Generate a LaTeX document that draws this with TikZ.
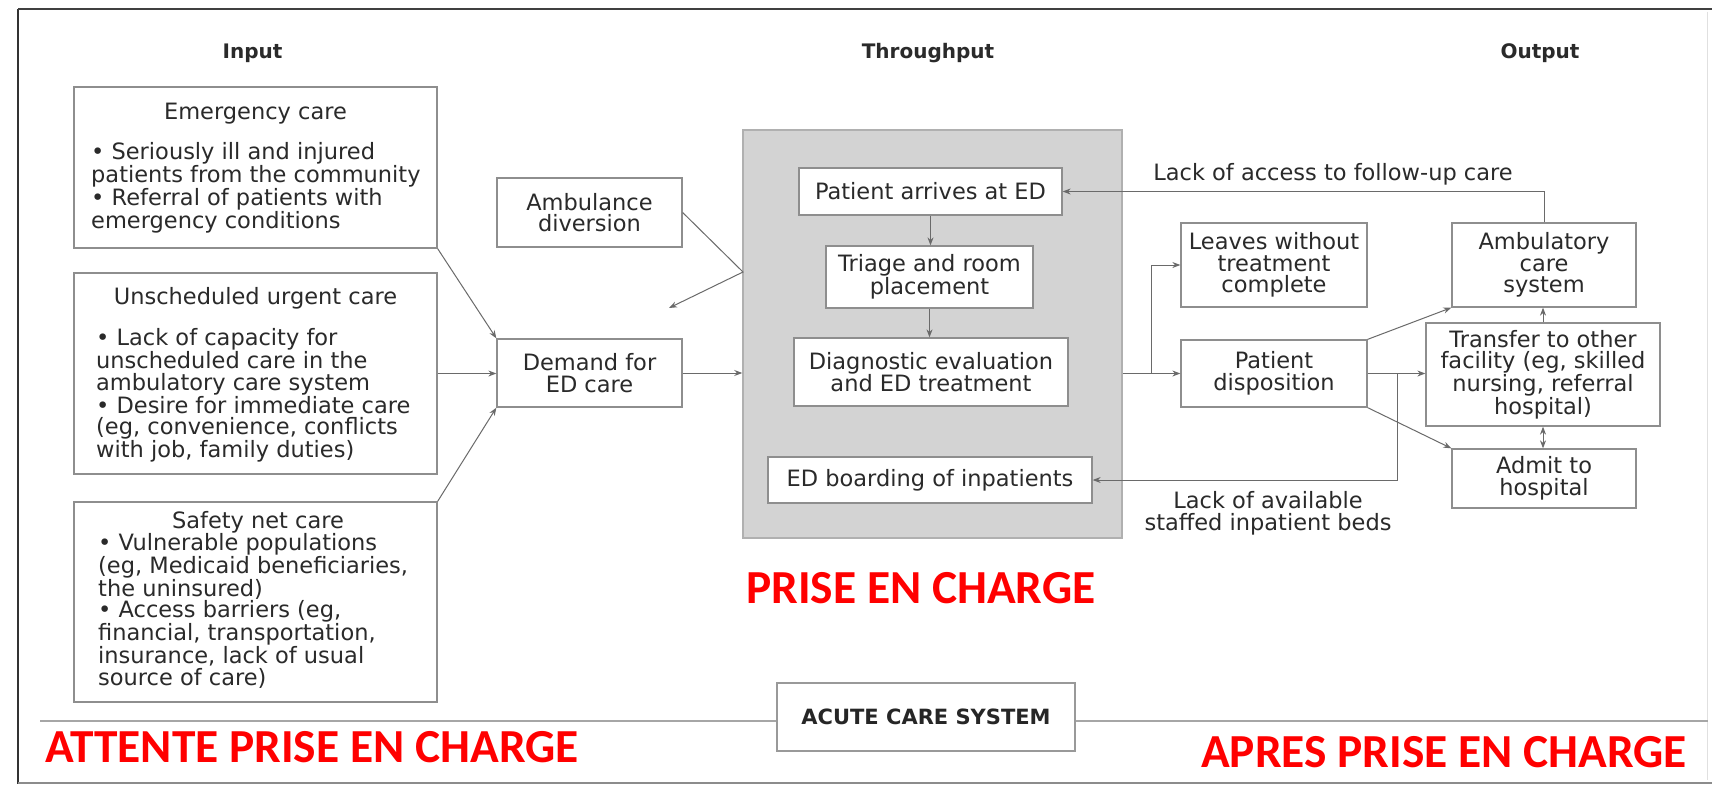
\documentclass[tikz,border=0pt]{standalone}
\usepackage{fontspec}
\setmainfont{DejaVu Sans}
\newfontfamily\redfont{Carlito}
\usetikzlibrary{arrows.meta}
\definecolor{txt}{HTML}{2A2A2A}
\definecolor{bord}{HTML}{8E8E8E}
\definecolor{conncol}{HTML}{6A6A6A}
\definecolor{grayfill}{HTML}{D3D3D3}
\definecolor{grayline}{HTML}{B0B0B0}
\definecolor{redtxt}{HTML}{FF0000}
\begin{document}
\begin{tikzpicture}[x=1pt,y=-1pt,
  every node/.style={text=txt, font=\fontsize{22.5}{21.7}\selectfont},
  ibox/.style={draw=bord, line width=1.3pt, fill=white, inner sep=0pt, align=center},
  conn/.style={draw=conncol, line width=1pt, -{Stealth[length=8pt,width=6pt]}},
  dconn/.style={draw=conncol, line width=1pt, {Stealth[length=8pt,width=6pt]}-{Stealth[length=8pt,width=6pt]}},
  headlabel/.style={font=\bfseries\fontsize{20}{24}\selectfont, text=txt},
  bodytext/.style={inner sep=0pt, anchor=base west, align=left},
  titletext/.style={inner sep=0pt, anchor=base, text depth=0pt},
  redlabel/.style={font=\redfont\bfseries\fontsize{47.4}{50}\selectfont, text=redtxt, inner sep=0pt, anchor=base west},
]
\useasboundingbox (0,0) rectangle (1712,784);
\fill[white] (0,0) rectangle (1712,784);
% frame
\draw[line width=2.5pt, black!80] (18,9) -- (18,784);
\draw[line width=2pt, black!75] (18,9) -- (1712,9);
\draw[line width=2pt, black!45] (18,783) -- (1712,783);
\draw[line width=1pt, black!12] (1707,12) -- (1707,780);
\draw[line width=1.5pt, black!35] (40,721) -- (1708,721);

% headers
\node[headlabel] (hin) at (252.5,53) {Input};
\node[headlabel] (hthr) at (928,53) {Throughput};
\node[headlabel] (hout) at (1540,53) {Output};

% input boxes (body text anchored at the baseline of its last line)
\node[ibox, minimum width=363pt, minimum height=161pt] (emerg) at (255.5,167.5) {};
\node[titletext] (emergt) at (255.5,119) {Emergency care};
\node[bodytext] (emergb) at (91,228) {• Seriously ill and injured\\patients from the community\\• Referral of patients with\\emergency conditions};

\node[ibox, minimum width=363pt, minimum height=201pt] (unsch) at (255.5,373.5) {};
\node[titletext] (unscht) at (255.5,304) {Unscheduled urgent care};
\node[bodytext] (unschb) at (96,457.5) {• Lack of capacity for\\unscheduled care in the\\ambulatory care system\\• Desire for immediate care\\(eg, convenience, conflicts\\with job, family duties)};

\node[ibox, minimum width=363pt, minimum height=200pt] (safety) at (255.5,602) {};
\node[titletext] (safetyt) at (258,528.5) {Safety net care};
\node[bodytext] (safetyb) at (98,685) {• Vulnerable populations\\(eg, Medicaid beneficiaries,\\the uninsured)\\• Access barriers (eg,\\financial, transportation,\\insurance, lack of usual\\source of care)};

\node[ibox, minimum width=185pt, minimum height=69pt] (amb) at (589.5,212.5) {Ambulance\\diversion};
\node[ibox, minimum width=185pt, minimum height=68pt] (demand) at (589.5,373) {Demand for\\ED care};

% throughput
\node[draw=grayline, fill=grayfill, line width=1.5pt, inner sep=0pt, minimum width=379pt, minimum height=408pt] (ed) at (932.5,334) {};
\node[ibox, minimum width=263pt, minimum height=47pt] (arrives) at (930.5,191.5) {Patient arrives at ED};
\node[ibox, minimum width=207pt, minimum height=62pt] (triage) at (929.5,277) {Triage and room\\placement};
\node[ibox, minimum width=274pt, minimum height=68pt] (diag) at (931,372) {Diagnostic evaluation\\and ED treatment};
\node[ibox, minimum width=324pt, minimum height=46pt] (board) at (930,480) {ED boarding of inpatients};

% output
\node[ibox, minimum width=186pt, minimum height=84pt] (leaves) at (1274,265) {Leaves without\\treatment\\complete};
\node[ibox, minimum width=184pt, minimum height=84pt] (ambul) at (1544,265) {Ambulatory\\care\\system};
\node[ibox, minimum width=186pt, minimum height=67pt] (dispo) at (1274,373.5) {Patient\\disposition};
\node[ibox, minimum width=234pt, minimum height=103pt] (transfer) at (1543,374.5) {Transfer to other\\facility (eg, skilled\\nursing, referral\\hospital)};
\node[ibox, minimum width=184pt, minimum height=59pt] (admit) at (1544,478.5) {Admit to\\hospital};

\node[inner sep=0pt] (lackfu) at (1333,174) {Lack of access to follow-up care};
\node[inner sep=0pt, align=center] (lackbeds) at (1268,513) {Lack of available\\staffed inpatient beds};

% acute care system
\node[draw=black!40, line width=1.3pt, fill=white, minimum width=298pt, minimum height=68pt, inner sep=0pt, font=\bfseries\fontsize{21}{24}\selectfont, text=black!85] (acute) at (926,717) {ACUTE CARE SYSTEM};

% connectors input
\draw[conn] (emerg.south east) -- (demand.north west);
\draw[conn] (unsch.east) -- (unsch.east -| demand.west);
\draw[conn] (safety.north east) -- (demand.south west);
\coordinate (ambbend) at (743,272);
\coordinate (ambtip) at (669,308);
\draw[conn] (amb.east) -- (ambbend) -- (ambtip);
\draw[conn] (demand.east) -- (demand.east -| ed.west);

% throughput
\draw[conn] (arrives.south) -- (arrives.south |- triage.north);
\draw[conn] (triage.south) -- (triage.south |- diag.north);

% output
\draw[conn] (ed.east |- dispo.west) -- (dispo.west);
\coordinate (br1) at (1151,373.5);
\draw[conn] (br1) |- (leaves.west);
\draw[conn] (ambul.north) |- (arrives.east);
\draw[conn] (dispo.north east) -- (ambul.south west);
\draw[conn] (dispo.east) -- (dispo.east -| transfer.west);
\draw[conn] (dispo.south east) -- (admit.north west);
\draw[conn] (transfer.north) -- (transfer.north |- ambul.south);
\draw[dconn] (transfer.south) -- (transfer.south |- admit.north);
\coordinate (br2) at (1397,373.5);
\draw[conn] (br2) |- (board.east);

% red labels
\node[redlabel] (r1) at (45,762) {ATTENTE PRISE EN CHARGE};
\node[redlabel] (r2) at (746,603) {PRISE EN CHARGE};
\node[redlabel] (r3) at (1201,767) {APRES PRISE EN CHARGE};
\end{tikzpicture}
\end{document}
